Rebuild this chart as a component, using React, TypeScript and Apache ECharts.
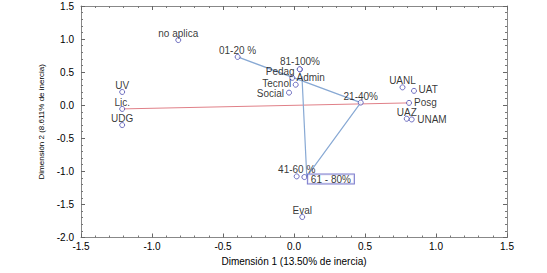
import React, { useEffect, useRef } from "react";
import * as echarts from "echarts";

// Correspondence analysis coordinates
const pointNames = [
  "no aplica", "01-20 %", "81-100%", "Pedag", "Admin", "Tecnol", "Social", "21-40%",
  "UV", "Lic.", "UDG", "UANL", "UAT", "Posg", "UAZ", "UNAM", "41-60 %", "61 - 80%", "Eval",
];
const dim1 = [
  -0.815, -0.397, 0.042, 0.04, -0.012, 0.012, -0.035, 0.47,
  -1.21, -1.21, -1.21, 0.764, 0.845, 0.81, 0.794, 0.829, 0.019, 0.073, 0.058,
];
const dim2 = [
  0.985, 0.73, 0.54, 0.545, 0.414, 0.31, 0.19, 0.04,
  0.2, -0.056, -0.3, 0.27, 0.217, 0.035, -0.205, -0.215, -1.076, -1.086, -1.69,
];

// connecting lines
const blueLineX = [-0.397, 0.47, 0.09, 0.056];
const blueLineY = [0.73, 0.04, -1.08, 0.44];
const redLineX = [-1.21, 0.81];
const redLineY = [-0.056, 0.035];

const xTicks = { min: -1.5, max: 1.5, step: 0.5 };
const yTicks = { min: -2.0, max: 1.5, step: 0.5 };

const xName = "Dimensión 1 (13.50% de inercia)";
const yName = "Dimensión 2 (8.611% de inercia)";

const FONT = "'Liberation Sans', Arial, sans-serif";

const labelPlacement: Record<string, { position: string; distance: number; offset?: number[] }> = {
  "81-100%": { position: "top", distance: 0.5 },
  Pedag: { position: "left", distance: 2, offset: [0, 2] },
  Admin: { position: "right", distance: 1.2, offset: [0, -0.5] },
  Tecnol: { position: "left", distance: 1.5, offset: [0, -1.5] },
  Social: { position: "left", distance: 2, offset: [0, 1] },
  UAT: { position: "right", distance: 1.5, offset: [0, -1] },
  Posg: { position: "right", distance: 2 },
  UNAM: { position: "right", distance: 2.5 },
  "61 - 80%": { position: "right", distance: 0.5, offset: [0, 2] },
};

export default function App() {
  const ref = useRef<HTMLDivElement>(null);
  useEffect(() => {
    if (!ref.current) return;
    const chart = echarts.init(ref.current, null, { renderer: "svg" });

    const points = pointNames.map((name, i) => {
      const p = labelPlacement[name] || { position: "top", distance: -0.5 };
      const label: any = {
        show: true,
        formatter: "{b}",
        position: p.position,
        distance: p.distance,
        fontSize: 10,
        lineHeight: 8,
        fontFamily: FONT,
        color: "#000",
      };
      if (p.offset) label.offset = p.offset;
      if (name === "61 - 80%") {
        label.borderColor = "#5a5ac0";
        label.borderWidth = 1;
        label.backgroundColor = "#fff";
        label.padding = [1, 3, 0, 3];
      }
      return { name, value: [dim1[i], dim2[i]], label };
    });

    const axisCommon = {
      type: "value" as const,
      axisLine: { show: true, onZero: false, lineStyle: { color: "#888", width: 1 } },
      axisTick: { show: true, inside: true, length: 4, lineStyle: { color: "#666" } },
      minorTick: { show: true, splitNumber: 5, length: 2, lineStyle: { color: "#777" } },
      splitLine: { show: false },
      minorSplitLine: { show: false },
    };

    chart.setOption({
      animation: false,
      grid: { left: 81, right: 40, top: 6, bottom: 35.5, containLabel: false },
      xAxis: [
        {
          ...axisCommon,
          min: xTicks.min,
          max: xTicks.max,
          interval: xTicks.step,
          position: "bottom",
          name: xName,
          nameLocation: "middle",
          nameGap: 14,
          nameTextStyle: { fontSize: 10, fontFamily: FONT, color: "#000", verticalAlign: "top" },
          axisLabel: {
            fontSize: 10,
            fontFamily: FONT,
            color: "#000",
            margin: 4,
            formatter: (v: number) => v.toFixed(1),
          },
        },
        {
          ...axisCommon,
          min: xTicks.min,
          max: xTicks.max,
          interval: xTicks.step,
          position: "top",
          axisLabel: { show: false },
        },
      ],
      yAxis: [
        {
          ...axisCommon,
          min: yTicks.min,
          max: yTicks.max,
          interval: yTicks.step,
          position: "left",
          name: yName,
          nameLocation: "middle",
          nameGap: 32,
          nameTextStyle: { fontSize: 8, fontFamily: FONT, color: "#000" },
          axisLabel: {
            fontSize: 10,
            fontFamily: FONT,
            color: "#000",
            margin: 7,
            formatter: (v: number) => v.toFixed(1),
          },
        },
        {
          ...axisCommon,
          min: yTicks.min,
          max: yTicks.max,
          interval: yTicks.step,
          position: "right",
          axisLabel: { show: false },
        },
      ],
      series: [
        {
          type: "line",
          data: redLineX.map((x, i) => [x, redLineY[i]]),
          symbol: "none",
          lineStyle: { color: "#e08088", width: 1 },
          silent: true,
          z: 1,
        },
        {
          type: "line",
          data: blueLineX.map((x, i) => [x, blueLineY[i]]),
          symbol: "none",
          lineStyle: { color: "#88a9d4", width: 1.2 },
          silent: true,
          z: 2,
        },
        {
          type: "scatter",
          data: points,
          symbol: "circle",
          symbolSize: 5,
          itemStyle: { color: "#ffffff", borderColor: "#4b4bb0", borderWidth: 1 },
          z: 3,
        },
      ],
    });
    return () => chart.dispose();
  }, []);
  return <div ref={ref} style={{ width: 547, height: 273, position: "absolute", left: 0, top: 0 }} />;
}
